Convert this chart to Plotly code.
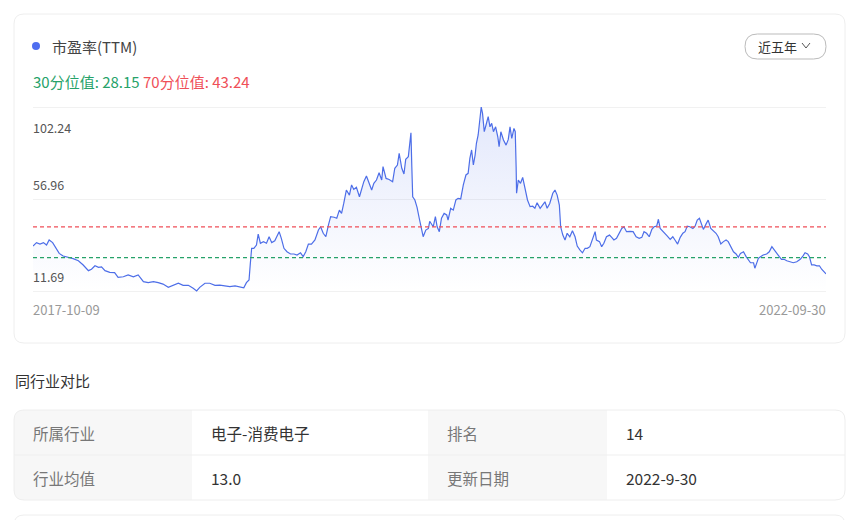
import plotly.graph_objects as go

# PE(TTM) readings, dates and values
dates = [
    "2017-10-09", "2017-10-17", "2017-10-25", "2017-11-02", "2017-11-09", "2017-11-15", "2017-11-23", "2017-11-30",
    "2017-12-08", "2017-12-17", "2017-12-29", "2018-01-09", "2018-01-21", "2018-02-01", "2018-02-13", "2018-02-20",
    "2018-02-28", "2018-03-08", "2018-03-15", "2018-03-23", "2018-04-03", "2018-04-14", "2018-04-22", "2018-05-04",
    "2018-05-15", "2018-05-27", "2018-06-07", "2018-06-19", "2018-06-30", "2018-07-12", "2018-07-23", "2018-08-03",
    "2018-08-15", "2018-08-26", "2018-09-07", "2018-09-18", "2018-09-30", "2018-10-11", "2018-10-19", "2018-10-26",
    "2018-11-07", "2018-11-18", "2018-11-30", "2018-12-11", "2018-12-23", "2019-01-03",
    "2019-01-15", "2019-01-26", "2019-02-04", "2019-02-10", "2019-02-16", "2019-02-19", "2019-02-22", "2019-02-27",
    "2019-03-05", "2019-03-09", "2019-03-14", "2019-03-21", "2019-03-28", "2019-04-03", "2019-04-09", "2019-04-16",
    "2019-04-22", "2019-04-26", "2019-05-01", "2019-05-07", "2019-05-14", "2019-05-22", "2019-05-30", "2019-06-06",
    "2019-06-14", "2019-06-20", "2019-06-26", "2019-07-02", "2019-07-09", "2019-07-17", "2019-07-25", "2019-07-30",
    "2019-08-05", "2019-08-11", "2019-08-17", "2019-08-22", "2019-08-30", "2019-09-05", "2019-09-11", "2019-09-16",
    "2019-09-21", "2019-09-27", "2019-10-04", "2019-10-09", "2019-10-14", "2019-10-20", "2019-10-27", "2019-11-01",
    "2019-11-06", "2019-11-12", "2019-11-18", "2019-11-24", "2019-11-29", "2019-12-05", "2019-12-11", "2019-12-17",
    "2019-12-20", "2019-12-27", "2020-01-03", "2020-01-11", "2020-01-16", "2020-01-22", "2020-01-26", "2020-02-01",
    "2020-02-06", "2020-02-10", "2020-02-16", "2020-02-20", "2020-02-22", "2020-02-24", "2020-02-26", "2020-03-02",
    "2020-03-07", "2020-03-12", "2020-03-16", "2020-03-21", "2020-03-27", "2020-04-02",
    "2020-04-05", "2020-04-13", "2020-04-18", "2020-04-22", "2020-04-27", "2020-05-02", "2020-05-08", "2020-05-14",
    "2020-05-17", "2020-05-23", "2020-05-29", "2020-06-04", "2020-06-09", "2020-06-15", "2020-06-21", "2020-06-27",
    "2020-07-02", "2020-07-06", "2020-07-10", "2020-07-14", "2020-07-18", "2020-07-21", "2020-07-25", "2020-07-29",
    "2020-08-01", "2020-08-04", "2020-08-08", "2020-08-12", "2020-08-17", "2020-08-21", "2020-08-25", "2020-08-29",
    "2020-09-03", "2020-09-08", "2020-09-11", "2020-09-15", "2020-09-21", "2020-09-27", "2020-10-02", "2020-10-06",
    "2020-10-10", "2020-10-15", "2020-10-18", "2020-10-20", "2020-10-21", "2020-10-25", "2020-10-30", "2020-11-04",
    "2020-11-09", "2020-11-15", "2020-11-21", "2020-11-27", "2020-12-02", "2020-12-07", "2020-12-14", "2020-12-20",
    "2020-12-25", "2020-12-30", "2021-01-05", "2021-01-12", "2021-01-17", "2021-01-22", "2021-01-27", "2021-01-30",
    "2021-02-04", "2021-02-09", "2021-02-14", "2021-02-20", "2021-02-26", "2021-03-04", "2021-03-09", "2021-03-15",
    "2021-03-21", "2021-03-27", "2021-04-01", "2021-04-07", "2021-04-13", "2021-04-19", "2021-04-22", "2021-04-29",
    "2021-05-04", "2021-05-09", "2021-05-15", "2021-05-22", "2021-05-27", "2021-06-01", "2021-06-07", "2021-06-13",
    "2021-06-19", "2021-06-24", "2021-06-30", "2021-07-08",
    "2021-07-15", "2021-07-22", "2021-07-29", "2021-08-04", "2021-08-09", "2021-08-15", "2021-08-21", "2021-08-27",
    "2021-09-01", "2021-09-07", "2021-09-11", "2021-09-15", "2021-09-21", "2021-09-26", "2021-10-01", "2021-10-08",
    "2021-10-14", "2021-10-19", "2021-10-25", "2021-10-31", "2021-11-06", "2021-11-11", "2021-11-16", "2021-11-22",
    "2021-11-29", "2021-12-04", "2021-12-09", "2021-12-14", "2021-12-19", "2021-12-23", "2021-12-29", "2022-01-03",
    "2022-01-09", "2022-01-15", "2022-01-21", "2022-01-26", "2022-02-01", "2022-02-07", "2022-02-13", "2022-02-18",
    "2022-02-24", "2022-03-02", "2022-03-08", "2022-03-13", "2022-03-18", "2022-03-25", "2022-03-31", "2022-04-05",
    "2022-04-10", "2022-04-17", "2022-04-20", "2022-04-24", "2022-04-28", "2022-05-03", "2022-05-09", "2022-05-17",
    "2022-05-23", "2022-05-29", "2022-06-03", "2022-06-09", "2022-06-15", "2022-06-20", "2022-06-26", "2022-07-02",
    "2022-07-10", "2022-07-17", "2022-07-25", "2022-08-02", "2022-08-08", "2022-08-13", "2022-08-19", "2022-08-23",
    "2022-08-28", "2022-09-03", "2022-09-09", "2022-09-15", "2022-09-20", "2022-09-26", "2022-09-30",
]
pe = [
    33.8, 35.5, 34.8, 35.5, 34.3, 36.8, 35.5, 32.7,
    30.2, 28.9, 28.3, 27.6, 26.6, 24.5, 21.7, 22.4,
    24.1, 23.3, 23.6, 21.7, 20.9, 20.7, 18.4, 18.7,
    19.6, 18.7, 19.6, 16.3, 15.8, 16.3, 15.8, 15.1,
    13.5, 14.5, 15.5, 14.5, 14.5, 13.0, 11.69, 13.5,
    15.5, 15.5, 14.5, 14.6, 14.2, 13.8,
    14.2, 13.8, 13.3, 15.8, 17.1, 25.3, 32.7, 32.7,
    34.3, 39.7, 35.2, 36.0, 35.2, 38.4, 35.5, 36.4,
    38.8, 40.9, 37.6, 32.7, 31.0, 29.9, 29.9, 29.4,
    30.5, 28.6, 31.0, 34.8, 34.8, 36.8, 41.7, 43.3,
    40.1, 38.4, 44.2, 48.3, 48.0, 47.5, 51.5, 49.9,
    54.8, 61.4, 58.9, 63.9, 61.7, 62.7, 58.1, 62.2,
    65.5, 68.3, 65.0, 61.4, 64.7, 66.3, 69.9, 66.3,
    72.9, 67.1, 66.6, 65.5, 72.1, 73.7, 79.4, 72.1,
    69.3, 76.5, 77.8, 84.4, 89.6, 72.9, 58.1, 56.5,
    52.9, 47.5, 42.5, 38.4, 41.7, 42.5,
    46.0, 43.3, 48.3, 43.3, 40.9, 47.5, 49.9, 49.1,
    46.6, 52.4, 51.5, 56.5, 57.3, 57.0, 63.9, 68.8,
    69.6, 77.0, 81.1, 73.7, 78.6, 84.4, 88.5, 95.8,
    102.24, 99.1, 90.1, 93.4, 97.5, 92.5, 94.2, 90.1,
    92.5, 87.6, 82.7, 90.1, 86.0, 83.5, 86.3, 92.5,
    86.8, 91.7, 90.1, 72.9, 59.8, 66.3, 64.7, 67.6,
    62.2, 56.5, 53.2, 53.4, 52.4, 55.1, 52.4, 54.0,
    55.6, 52.4, 54.8, 59.8, 61.4, 58.9, 54.0, 43.3,
    39.2, 36.8, 40.1, 38.4, 41.4, 38.4, 33.8, 31.9,
    30.5, 32.7, 32.7, 33.5, 36.8, 40.9, 36.8, 36.0,
    33.5, 35.2, 38.4, 39.2, 38.1, 36.8, 37.6, 40.1,
    42.5, 43.3, 40.9, 41.0,
    40.9, 38.4, 37.6, 38.1, 40.9, 40.1, 38.4, 42.0,
    43.3, 43.6, 47.0, 42.5, 40.9, 40.1, 38.8, 37.1,
    38.4, 36.8, 34.8, 38.1, 40.1, 40.9, 43.6, 43.3,
    42.5, 43.6, 46.6, 47.5, 44.9, 42.0, 44.6, 46.6,
    42.5, 41.4, 40.1, 38.4, 34.8, 36.0, 36.8, 36.0,
    33.5, 31.0, 29.9, 28.3, 30.2, 31.0, 28.6, 26.9,
    25.6, 25.6, 22.9, 25.3, 27.8, 28.6, 29.4, 29.9,
    31.0, 33.5, 31.9, 29.9, 28.6, 27.3, 27.3, 26.6,
    26.1, 25.6, 26.1, 27.3, 28.9, 30.5, 29.9, 28.6,
    24.5, 24.5, 24.1, 24.1, 22.4, 21.2, 20.1,
]

p30 = 28.15
p70 = 43.24
y_ticks = [11.69, 56.96, 102.24]
y_tick_pos = [11.69, 56.965, 102.24]

industry_rows = [
    ["所属行业", "电子-消费电子", "排名", "14"],
    ["行业均值", "13.0", "更新日期", "2022-9-30"],
]

# page body has an 8px margin, so the figure is a bit smaller and offset
OFF = 8
W, H = 852, 512
FONT = "Noto Sans CJK SC"
BLUE = "#4d6ee8"
RED = "#ef4f58"
GREEN = "#26a269"


def px(x):
    return (x - OFF) / W


def py(y):
    return 1 - (y - OFF) / H


def round_rect(x0, y0, x1, y1, r):
    rx, ry = r / W, r / H
    a, b, c, d = px(x0), py(y0), px(x1), py(y1)
    return (f"M{a + rx},{b} L{c - rx},{b} Q{c},{b} {c},{b - ry} "
            f"L{c},{d + ry} Q{c},{d} {c - rx},{d} L{a + rx},{d} "
            f"Q{a},{d} {a},{d + ry} L{a},{b - ry} Q{a},{b} {a + rx},{b} Z")


fig = go.Figure()

fig.add_trace(go.Scatter(
    x=dates, y=pe, mode="lines",
    line=dict(color=BLUE, width=1.2),
    fill="tozeroy",
    fillgradient=dict(type="vertical", start=11.69, stop=102.24,
                      colorscale=[[0, "rgba(77,110,232,0)"], [1, "rgba(77,110,232,0.16)"]]),
    hoverinfo="skip", showlegend=False,
))

# percentile lines
for val, col in [(p70, RED), (p30, GREEN)]:
    fig.add_shape(type="line", xref="paper", yref="y", x0=px(33), x1=px(826), y0=val, y1=val,
                  line=dict(color=col, width=1.2, dash="4px,3px"))

shapes = []
# cards
shapes.append(dict(type="path", xref="paper", yref="paper", path=round_rect(14, 14, 845, 343, 10),
                   line=dict(color="#eeeeee", width=1), fillcolor="rgba(0,0,0,0)", layer="below"))
shapes.append(dict(type="path", xref="paper", yref="paper", path=round_rect(14, 515, 845, 560, 10),
                   line=dict(color="#eeeeee", width=1), fillcolor="rgba(0,0,0,0)", layer="below"))
# table cells
col_x = [14, 192, 428, 607, 845]
row_y = [410, 455, 500]
shapes.append(dict(type="path", xref="paper", yref="paper", path=round_rect(14, 410, 845, 500, 10),
                   line=dict(width=0), fillcolor="#f7f7f7", layer="below"))
for ci in (1, 3):
    shapes.append(dict(type="rect", xref="paper", yref="paper",
                       x0=px(col_x[ci]), x1=px(col_x[ci + 1] if ci == 1 else 835), y0=py(410), y1=py(500),
                       line=dict(width=0), fillcolor="#ffffff", layer="below"))
shapes.append(dict(type="path", xref="paper", yref="paper", path=round_rect(800, 410, 845, 500, 10),
                   line=dict(width=0), fillcolor="#ffffff", layer="below"))
shapes.append(dict(type="path", xref="paper", yref="paper", path=round_rect(14, 410, 845, 500, 10),
                   line=dict(color="#eeeeee", width=1), fillcolor="rgba(0,0,0,0)", layer="below"))
shapes.append(dict(type="line", xref="paper", yref="paper", x0=px(14), x1=px(845), y0=py(455), y1=py(455),
                   line=dict(color="#efefef", width=1), layer="below"))
# legend dot
shapes.append(dict(type="circle", xref="paper", yref="paper", x0=px(32), x1=px(40), y0=py(42), y1=py(50),
                   line=dict(width=0), fillcolor="#4f6ef0"))
# range button
shapes.append(dict(type="path", xref="paper", yref="paper", path=round_rect(745, 34, 826, 59, 12.5),
                   line=dict(color="#bbbbbb", width=1), fillcolor="#ffffff"))
shapes.append(dict(type="path", xref="paper", yref="paper",
                   path=f"M{px(802)},{py(43)} L{px(806)},{py(48)} L{px(810)},{py(43)}",
                   line=dict(color="#555555", width=1)))
for s in shapes:
    fig.add_shape(**s)

ann = []
ann.append(dict(x=px(50), y=py(46), text="市盈率(TTM)", xanchor="left", yanchor="middle",
                font=dict(size=15, color="#444444")))
ann.append(dict(x=px(756), y=py(46.5), text="近五年", xanchor="left", yanchor="middle",
                font=dict(size=13, color="#333333")))
ann.append(dict(x=px(31), y=py(81), xanchor="left", yanchor="middle",
                text=f"<span style='color:{GREEN}'>30分位值: {p30:.2f}</span> "
                     f"<span style='color:{RED}'>70分位值: {p70:.2f}</span>",
                font=dict(size=15)))
for pos, lab in zip(y_tick_pos, y_ticks):
    top = pos == y_tick_pos[-1]
    ann.append(dict(x=px(31), xref="paper", y=pos, yref="y", text=f"{lab:.2f}", xanchor="left",
                    yanchor="top" if top else "bottom", yshift=-9 if top else 3,
                    font=dict(size=12.5, color="#555555")))
ann.append(dict(x=dates[0], xref="x", y=py(309), text=dates[0], xanchor="left", yanchor="middle",
                xshift=-2, font=dict(size=13, color="#999999")))
ann.append(dict(x=dates[-1], xref="x", y=py(309), text=dates[-1], xanchor="right", yanchor="middle",
                xshift=2, font=dict(size=13, color="#999999")))
ann.append(dict(x=px(13), y=py(380), text="同行业对比", xanchor="left", yanchor="middle",
                font=dict(size=15, color="#333333")))
for ri, row in enumerate(industry_rows):
    yc = (row_y[ri] + row_y[ri + 1]) / 2
    for ci, txt in enumerate(row):
        ann.append(dict(x=px(col_x[ci] + 17), y=py(yc), text=txt, xanchor="left", yanchor="middle",
                        font=dict(size=15.5, color="#777777" if ci % 2 == 0 else "#333333")))
for a in ann:
    a.setdefault("xref", "paper")
    a.setdefault("yref", "paper")
    a["showarrow"] = False
    fig.add_annotation(**a)

fig.update_layout(
    width=W, height=H,
    margin=dict(l=0, r=0, t=0, b=0),
    paper_bgcolor="#ffffff", plot_bgcolor="rgba(0,0,0,0)",
    font=dict(family=FONT),
    xaxis=dict(type="date", range=[dates[0], dates[-1]], domain=[px(33), px(826)],
               showgrid=False, showticklabels=False, zeroline=False, showline=False, ticks=""),
    yaxis=dict(range=[11.0, 103.0], domain=[py(292.4), py(105.5)],
               tickvals=y_tick_pos, showticklabels=False, gridcolor="#f1f1f1", gridwidth=1,
               zeroline=False, showline=False, ticks=""),
)

fig.write_html("out.html")
